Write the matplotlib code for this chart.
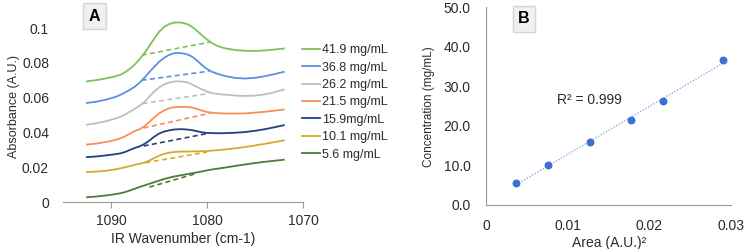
import numpy as np
import matplotlib.pyplot as plt

plt.rcParams["font.family"] = ["Liberation Sans", "DejaVu Sans"]
plt.rcParams["font.size"] = 9

# ── Panel A data: absorbance spectra ─────────────────────────────────────────
wavenumber = [1092.5, 1091.5, 1090.5, 1089.5, 1089, 1088.5, 1088, 1087.5, 1087, 1086.5,
              1086, 1085.5, 1085, 1084.5, 1084, 1083.5, 1083, 1082.5, 1082, 1081.5,
              1081, 1080.5, 1080, 1079.5, 1079, 1078.5, 1078, 1077, 1076, 1075,
              1074, 1073, 1072]

labels = ["41.9 mg/mL", "36.8 mg/mL", "26.2 mg/mL", "21.5 mg/mL",
          "15.9mg/mL", "10.1 mg/mL", "5.6 mg/mL"]
colors = ["#7DC35A", "#5B8FE0", "#BEBEBE", "#F98F56", "#24407F", "#D8AA2A", "#4E7A3A"]

abs_419 = [0.0695, 0.0702, 0.0712, 0.0724, 0.0733, 0.0748, 0.0768, 0.0793, 0.0823, 0.0858,
           0.0898, 0.0940, 0.0978, 0.1006, 0.1022, 0.1031, 0.1033, 0.1030, 0.1022, 0.1005,
           0.0982, 0.0958, 0.0935, 0.0915, 0.0900, 0.0890, 0.0883, 0.0874, 0.0870, 0.0869,
           0.0872, 0.0877, 0.0883]
abs_368 = [0.0571, 0.0578, 0.0590, 0.0606, 0.0618, 0.0632, 0.0647, 0.0665, 0.0688, 0.0717,
           0.0748, 0.0778, 0.0806, 0.0828, 0.0845, 0.0855, 0.0858, 0.0855, 0.0848, 0.0835,
           0.0812, 0.0787, 0.0766, 0.0750, 0.0740, 0.0731, 0.0724, 0.0714, 0.0711, 0.0715,
           0.0724, 0.0736, 0.0749]
abs_262 = [0.0446, 0.0455, 0.0466, 0.0482, 0.0492, 0.0505, 0.0522, 0.0538, 0.0555, 0.0578,
           0.0608, 0.0636, 0.0659, 0.0676, 0.0687, 0.0693, 0.0695, 0.0693, 0.0688, 0.0675,
           0.0662, 0.0648, 0.0636, 0.0628, 0.0623, 0.0620, 0.0618, 0.0613, 0.0611, 0.0613,
           0.0620, 0.0632, 0.0648]
abs_215 = [0.0332, 0.0338, 0.0347, 0.0359, 0.0368, 0.0380, 0.0396, 0.0410, 0.0420, 0.0438,
           0.0462, 0.0488, 0.0510, 0.0527, 0.0539, 0.0546, 0.0548, 0.0548, 0.0547, 0.0544,
           0.0536, 0.0526, 0.0519, 0.0515, 0.0512, 0.0511, 0.0510, 0.0510, 0.0511, 0.0515,
           0.0520, 0.0526, 0.0533]
abs_159 = [0.0260, 0.0264, 0.0270, 0.0277, 0.0282, 0.0290, 0.0302, 0.0313, 0.0322, 0.0336,
           0.0355, 0.0377, 0.0395, 0.0406, 0.0413, 0.0418, 0.0420, 0.0420, 0.0418, 0.0414,
           0.0408, 0.0402, 0.0399, 0.0398, 0.0397, 0.0397, 0.0398, 0.0400, 0.0404, 0.0411,
           0.0420, 0.0431, 0.0443]
abs_101 = [0.0174, 0.0177, 0.0182, 0.0190, 0.0196, 0.0202, 0.0209, 0.0216, 0.0222, 0.0229,
           0.0240, 0.0255, 0.0268, 0.0278, 0.0285, 0.0289, 0.0291, 0.0292, 0.0292, 0.0293,
           0.0293, 0.0294, 0.0295, 0.0297, 0.0299, 0.0302, 0.0305, 0.0311, 0.0318, 0.0327,
           0.0336, 0.0346, 0.0356]
abs_056 = [0.0030, 0.0034, 0.0040, 0.0048, 0.0053, 0.0060, 0.0069, 0.0079, 0.0089, 0.0098,
           0.0107, 0.0116, 0.0125, 0.0134, 0.0141, 0.0148, 0.0153, 0.0158, 0.0163, 0.0168,
           0.0173, 0.0178, 0.0184, 0.0189, 0.0193, 0.0197, 0.0201, 0.0210, 0.0218, 0.0226,
           0.0233, 0.0239, 0.0245]
spectra = [abs_419, abs_368, abs_262, abs_215, abs_159, abs_101, abs_056]

# dashed baselines under each peak (start -> end)
base_x0 = [1086.8, 1086.8, 1086.7, 1086.6, 1086.6, 1086.4, 1086.0]
base_y0 = [0.0845, 0.0701, 0.0567, 0.0427, 0.0324, 0.0228, 0.0088]
base_x1 = [1079.6, 1079.8, 1079.8, 1079.6, 1080.0, 1080.0, 1081.2]
base_y1 = [0.0921, 0.0753, 0.0625, 0.0513, 0.0395, 0.0289, 0.0165]

# ── Panel B data: calibration ────────────────────────────────────────────────
area = [0.0037, 0.0076, 0.0127, 0.0177, 0.0216, 0.0290]
conc = [5.6, 10.1, 15.9, 21.5, 26.2, 36.8]

fig = plt.figure(figsize=(7.5, 2.49), dpi=100)
axis_gray = "#999999"
text_col = "#2b2b2b"

# ── Panel A ──────────────────────────────────────────────────────────────────
axA = fig.add_axes([0.084, 0.187, 0.320, 0.770])
for y, c, lab, x0, y0, x1, y1 in zip(spectra, colors, labels, base_x0, base_y0, base_x1, base_y1):
    axA.plot(wavenumber, y, color=c, lw=1.3, label=lab)
    axA.plot([x0, x1], [y0, y1], color=c, lw=1.2, ls=(0, (3, 2)))

axA.set_xlim(1095, 1070)
axA.set_ylim(0, 0.11)
axA.set_xticks([1090, 1080, 1070])
axA.set_yticks([0, 0.02, 0.04, 0.06, 0.08, 0.1])
axA.set_yticklabels(["0", "0.02", "0.04", "0.06", "0.08", "0.1"])
axA.spines[["top", "right", "left"]].set_visible(False)
axA.spines["bottom"].set_color(axis_gray)
axA.tick_params(axis="y", length=0, pad=10, labelcolor=text_col, labelsize=10)
axA.tick_params(axis="x", length=4, color=axis_gray, pad=4, labelcolor=text_col, labelsize=10)
axA.set_xlabel("IR Wavenumber (cm-1)", color=text_col, labelpad=3, fontsize=10)
axA.set_ylabel("Absorbance (A.U.)", color=text_col, labelpad=1.5, fontsize=9)
axA.text(0.131, 1.01, "A", transform=axA.transAxes, fontsize=11.5, fontweight="bold",
         ha="center", va="top",
         bbox=dict(boxstyle="square,pad=0.35", facecolor="#F0F0F0", edgecolor="#D5D5D5"))

fig.legend(loc="upper left", bbox_to_anchor=(0.402, 0.822), frameon=False,
           handlelength=1.45, handletextpad=0.2, labelspacing=0.43, borderpad=0,
           borderaxespad=0, fontsize=9, labelcolor=text_col)

# ── Panel B ──────────────────────────────────────────────────────────────────
axB = fig.add_axes([0.648, 0.177, 0.327, 0.793])
slope, intercept = np.polyfit(area, conc, 1)
fit_x = np.array([min(area), max(area)])
axB.plot(fit_x, slope * fit_x + intercept, color="#8AAEE6", lw=1.0, ls=(0, (1, 1.2)))
axB.scatter(area, conc, color="#3F6FD0", s=22, zorder=3)
axB.set_xlim(0, 0.03)
axB.set_ylim(0, 50)
axB.set_xticks([0, 0.01, 0.02, 0.03])
axB.set_xticklabels(["0", "0.01", "0.02", "0.03"])
axB.set_yticks([0, 10, 20, 30, 40, 50])
axB.set_yticklabels([f"{v:.1f}" for v in [0, 10, 20, 30, 40, 50]])
axB.spines[["top", "right"]].set_visible(False)
axB.spines[["left", "bottom"]].set_color(axis_gray)
axB.tick_params(length=0, labelcolor=text_col, labelsize=10)
axB.tick_params(axis="y", pad=11)
axB.tick_params(axis="x", pad=10)
axB.set_xlabel("Area (A.U.)²", color=text_col, labelpad=2, fontsize=10)
axB.set_ylabel("Concentration (mg/mL)", color=text_col, labelpad=6, fontsize=8.5)
axB.text(0.0127, 26.6, "R² = 0.999", ha="center", va="center", color=text_col, fontsize=10)
axB.text(0.00465, 49.0, "B", fontsize=11.5, fontweight="bold", ha="center", va="top",
         bbox=dict(boxstyle="square,pad=0.35", facecolor="#F0F0F0", edgecolor="#D5D5D5"))

fig.savefig("out.png", dpi=100)
